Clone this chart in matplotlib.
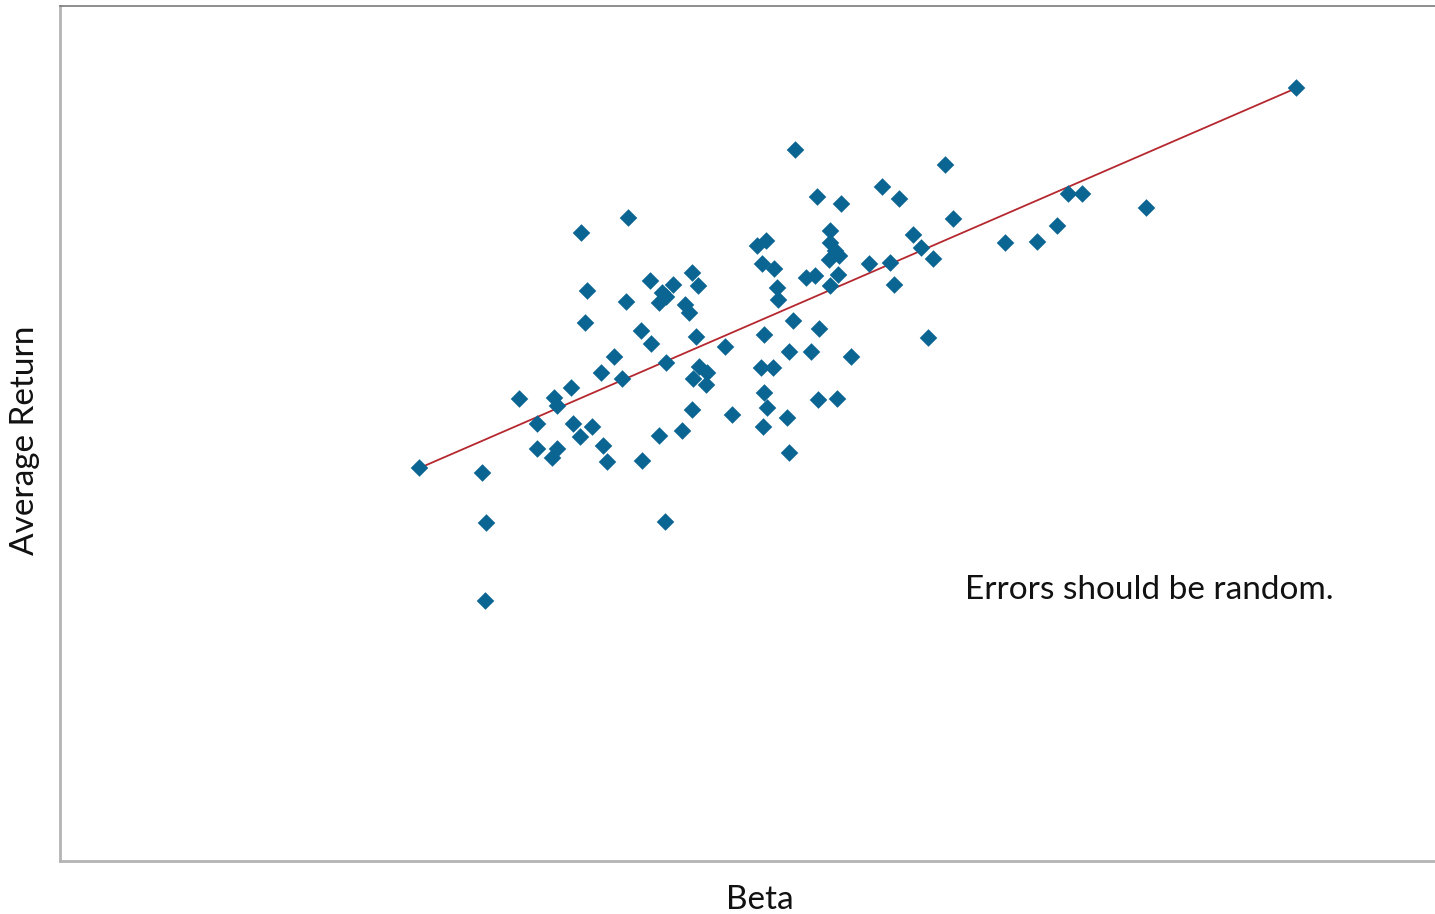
import numpy as np
import matplotlib
matplotlib.use('Agg')
import matplotlib.pyplot as plt

# beta vs average return (arbitrary units)
beta = [0.720, 0.846, 0.854, 0.852, 0.920, 0.956, 0.956, 0.990, 0.996, 0.986,
        0.996, 1.024, 1.028, 1.042, 1.066, 1.088, 1.096, 1.044, 1.056, 1.052,
        1.084, 1.110, 1.126, 1.134, 1.138, 1.164, 1.166, 1.184, 1.182, 1.200,
        1.206, 1.214, 1.214, 1.200, 1.212, 1.228, 1.252, 1.260, 1.266, 1.278,
        1.274, 1.246, 1.266, 1.268, 1.280, 1.296, 1.294, 1.332, 1.346, 1.396,
        1.414, 1.406, 1.430, 1.436, 1.438, 1.472, 1.468, 1.410, 1.460, 1.404,
        1.428, 1.410, 1.416, 1.408, 1.456, 1.460, 1.504, 1.520, 1.518, 1.556,
        1.584, 1.516, 1.564, 1.542, 1.542, 1.552, 1.560, 1.540, 1.494, 1.512,
        1.558, 1.542, 1.620, 1.662, 1.670, 1.646, 1.680, 1.708, 1.724, 1.748,
        1.738, 1.772, 1.788, 1.892, 1.956, 1.996, 2.018, 2.046, 2.174, 2.474]
avg_return = [7.86, 7.76, 6.76, 5.20, 9.24, 8.74, 8.24, 9.26, 9.10, 8.06,
              8.24, 9.46, 8.74, 8.48, 8.68, 8.30, 7.98, 12.56, 11.40, 10.76,
              9.76, 10.08, 9.64, 11.18, 12.86, 10.60, 8.00, 10.34, 11.60, 11.16,
              11.36, 11.28, 9.96, 8.50, 6.78, 11.52, 11.12, 10.96, 11.76, 11.50,
              10.48, 8.60, 9.02, 9.64, 9.88, 9.76, 9.52, 10.28, 8.92, 12.30,
              12.40, 11.94, 11.84, 11.46, 11.22, 14.22, 10.80, 10.52, 10.18, 9.86,
              9.86, 9.36, 9.06, 8.68, 8.86, 8.16, 10.18, 10.64, 9.22, 9.24,
              10.08, 13.28, 13.14, 12.60, 12.36, 12.20, 12.10, 12.02, 11.66, 11.70,
              11.72, 11.50, 11.94, 11.96, 11.52, 13.48, 13.24, 12.52, 12.26, 12.04,
              10.46, 13.92, 12.84, 12.36, 12.38, 12.70, 13.34, 13.34, 13.06, 15.46]

x = np.array(beta)
y = np.array(avg_return)
# line joins the lowest-beta and highest-beta points
i0, i1 = x.argmin(), x.argmax()

plt.rcParams['font.family'] = ['Lato', 'DejaVu Sans']

fig = plt.figure(figsize=(14.35, 9.14), dpi=100)
ax = fig.add_axes([59.5 / 1435, 53 / 914, 1 - 59.5 / 1435, 855.5 / 914])

ax.scatter(x, y, marker='D', s=80, color='#0b6592', edgecolors='none', zorder=3)
ax.plot([x[i0], x[i1]], [y[i0], y[i1]], color='#b5282f', lw=1.3, zorder=2)

ax.set_xlim(0, (1435 - 59.5) / 500)
ax.set_ylim(0, 855.5 / 50)
ax.set_xticks([])
ax.set_yticks([])

ax.spines['right'].set_visible(False)
ax.spines['left'].set_color('#b4b4b4')
ax.spines['left'].set_linewidth(2)
ax.spines['bottom'].set_color('#b4b4b4')
ax.spines['bottom'].set_linewidth(2)
ax.spines['top'].set_color('#7a7a7a')
ax.spines['top'].set_linewidth(1.2)

ax.set_xlabel('Beta', fontsize=24, color='#111111', va='center')
ax.set_ylabel('Average Return', fontsize=24, color='#111111', va='center')
ax.xaxis.set_label_coords(0.509, -0.046)
ax.yaxis.set_label_coords(-0.025, 0.492)

ax.text(1.81, 5.42, 'Errors should be random.', fontsize=24,
        ha='left', va='center', color='#111111')

fig.savefig('out.png', dpi=100)
plt.close(fig)
